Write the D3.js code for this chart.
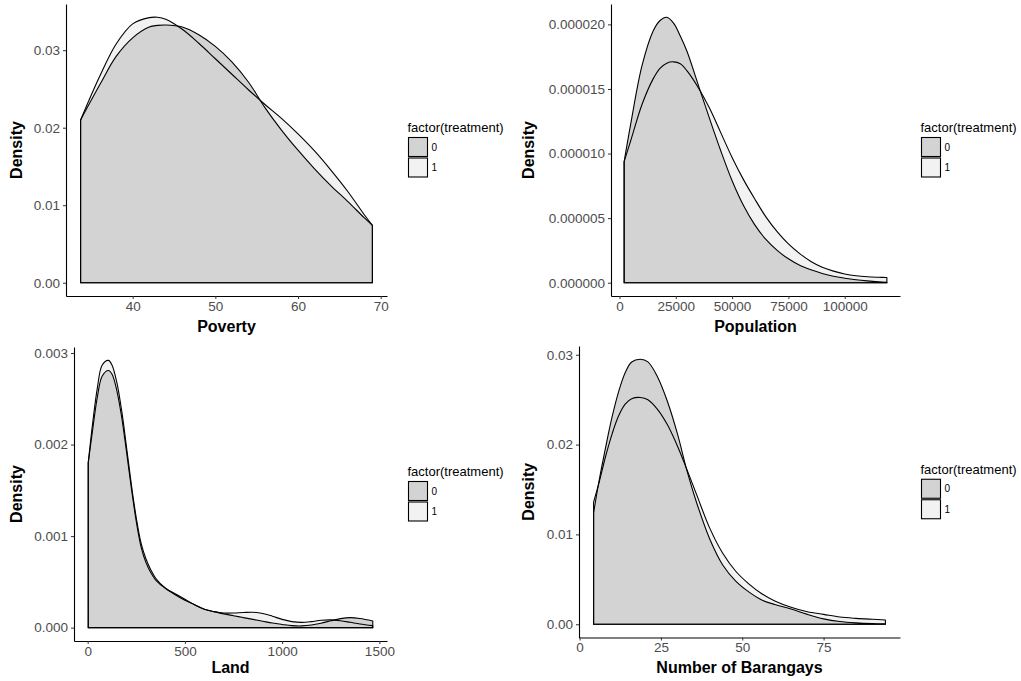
<!DOCTYPE html>
<html>
<head>
<meta charset="utf-8">
<script src="https://cdn.jsdelivr.net/npm/d3@7"></script>
<style>
	body { margin: 0; background: #fff; }
	text { font-family: "Liberation Sans", Arial, sans-serif; }
</style>
</head>
<body>
<div id="wrapper"></div>
<script>
// treatment groups and their fills
const treatments = ["0", "1"];
const fillColors = ["#d3d3d3", "#f2f2f2"];

// Poverty densities
const povertyX = [33.7, 36, 38, 40, 42, 43, 44, 46, 48, 50, 52, 54, 56, 58, 60, 62, 64, 66, 68, 69];
const povertyD0 = [0.0210, 0.0255, 0.0292, 0.0316, 0.0330, 0.0332, 0.03326, 0.0330, 0.0320, 0.0305, 0.0285, 0.0259, 0.0226, 0.0197, 0.0171, 0.0147, 0.0125, 0.0105, 0.0084, 0.0074];
const povertyD1 = [0.0210, 0.0266, 0.0308, 0.0334, 0.0342, 0.03425, 0.0340, 0.0327, 0.0309, 0.0289, 0.0269, 0.0249, 0.0230, 0.0212, 0.0192, 0.0170, 0.0145, 0.0118, 0.0088, 0.0074];

// Population densities
const populationX = [2070, 5000, 10000, 15000, 18000, 21000, 24000, 27000, 30000, 35000, 40000, 45000, 50000, 55000, 60000, 65000, 70000, 75000, 80000, 85000, 90000, 95000, 100000, 105000, 110000, 115000, 118700];
const populationD0 = [9.37e-6, 12.3e-6, 16.8e-6, 19.5e-6, 20.3e-6, 20.55e-6, 20.1e-6, 19.1e-6, 17.9e-6, 15.3e-6, 12.7e-6, 10.2e-6, 7.9e-6, 6.0e-6, 4.5e-6, 3.35e-6, 2.5e-6, 1.85e-6, 1.35e-6, 1.0e-6, 0.72e-6, 0.5e-6, 0.35e-6, 0.23e-6, 0.14e-6, 0.07e-6, 0.03e-6];
const populationD1 = [9.37e-6, 11.0e-6, 13.8e-6, 15.8e-6, 16.6e-6, 17.0e-6, 17.1e-6, 16.95e-6, 16.4e-6, 15.1e-6, 13.5e-6, 11.6e-6, 9.7e-6, 8.0e-6, 6.5e-6, 5.1e-6, 3.95e-6, 3.0e-6, 2.25e-6, 1.65e-6, 1.2e-6, 0.9e-6, 0.68e-6, 0.54e-6, 0.46e-6, 0.42e-6, 0.4e-6];

// Land densities
const landX = [3, 25, 50, 75, 107, 125, 150, 175, 200, 225, 250, 275, 300, 325, 350, 400, 450, 500, 550, 600, 650, 700, 750, 800, 850, 900, 950, 1000, 1050, 1100, 1150, 1200, 1250, 1300, 1350, 1400, 1466];
const landD0 = [0.00180, 0.00215, 0.00252, 0.00275, 0.00281, 0.00277, 0.00259, 0.00230, 0.00192, 0.00152, 0.00116, 0.00088, 0.00071, 0.00060, 0.00052, 0.00043, 0.00037, 0.00031, 0.00025, 0.00020, 0.000175, 0.000150, 0.000130, 0.000110, 0.000090, 0.000070, 0.000050, 0.000035, 0.000022, 0.000019, 0.000028, 0.000048, 0.000075, 0.000098, 0.000109, 0.000100, 0.000073];
const landD1 = [0.00180, 0.00222, 0.00262, 0.00287, 0.00292, 0.00287, 0.00268, 0.00237, 0.00197, 0.00156, 0.00120, 0.00092, 0.00075, 0.00063, 0.00054, 0.00043, 0.00036, 0.00030, 0.00025, 0.00020, 0.000175, 0.000160, 0.000160, 0.000165, 0.000168, 0.000155, 0.000125, 0.000090, 0.000066, 0.000058, 0.000066, 0.000080, 0.000085, 0.000075, 0.000058, 0.000040, 0.000022];

// Number of Barangays densities
const barangayX = [4.3, 6, 8, 10, 12, 14, 16, 18.7, 21, 24, 27, 30, 33, 36, 40, 44, 48, 52, 56, 60, 65, 70, 75, 80, 85, 90, 94];
const barangayD0 = [0.0124, 0.0160, 0.0197, 0.0231, 0.0259, 0.0280, 0.0292, 0.0295, 0.0292, 0.0275, 0.0248, 0.0213, 0.0171, 0.0135, 0.0095, 0.0066, 0.0048, 0.0036, 0.0027, 0.0022, 0.0017, 0.0011, 0.0006, 0.0003, 0.00015, 0.00007, 0.00004];
const barangayD1 = [0.0136, 0.0158, 0.0187, 0.0212, 0.0232, 0.0245, 0.0251, 0.02525, 0.0250, 0.0239, 0.0222, 0.0199, 0.0172, 0.0144, 0.0107, 0.0079, 0.0059, 0.0045, 0.0034, 0.0026, 0.0019, 0.0014, 0.0011, 0.0008, 0.00065, 0.00055, 0.00048];

// tick labels
const povertyXTicks = [40, 50, 60, 70];
const povertyYTicks = [0, 0.01, 0.02, 0.03];
const populationXTicks = [0, 25000, 50000, 75000, 100000];
const populationYTicks = [0, 0.000005, 0.00001, 0.000015, 0.00002];
const landXTicks = [0, 500, 1000, 1500];
const landYTicks = [0, 0.001, 0.002, 0.003];
const barangayXTicks = [0, 25, 50, 75];
const barangayYTicks = [0, 0.01, 0.02, 0.03];

const width = 1021;
const height = 681;

const canvas = d3.select("#wrapper")
	.append("svg")
	.attr("width", width)
	.attr("height", height);

const panels = [
	{ title: "Poverty", x: povertyX, d: [povertyD0, povertyD1], xTicks: povertyXTicks, yTicks: povertyYTicks, yFmt: ".2f",
		left: 66, right: 387, top: 4, bottom: 296, titleY: 331.5, densX: 22 },
	{ title: "Population", x: populationX, d: [populationD0, populationD1], xTicks: populationXTicks, yTicks: populationYTicks, yFmt: ".6f",
		left: 611, right: 900, top: 4, bottom: 296, titleY: 331.5, densX: 533.5 },
	{ title: "Land", x: landX, d: [landD0, landD1], xTicks: landXTicks, yTicks: landYTicks, yFmt: ".3f",
		left: 74, right: 387, top: 347, bottom: 641, titleY: 673, densX: 22 },
	{ title: "Number of Barangays", x: barangayX, d: [barangayD0, barangayD1], xTicks: barangayXTicks, yTicks: barangayYTicks, yFmt: ".2f",
		left: 579, right: 900, top: 346, bottom: 637.5, titleY: 673, densX: 533.5 }
];

// ggplot style 5% expansion
function expand(ext) {
	const pad = (ext[1] - ext[0]) * 0.05;
	return [ext[0] - pad, ext[1] + pad];
}

function drawPanel(p) {
	const g = canvas.append("g");

	const xScale = d3.scaleLinear()
		.domain(expand(d3.extent(p.x)))
		.range([p.left, p.right]);

	const yMax = d3.max(p.d, function(arr){ return d3.max(arr); });
	const yScale = d3.scaleLinear()
		.domain(expand([0, yMax]))
		.range([p.bottom, p.top]);

	const area = d3.area()
		.x(function(d){ return xScale(d[0]); })
		.y0(yScale(0))
		.y1(function(d){ return yScale(d[1]); })
		.curve(d3.curveCatmullRom.alpha(0.5));

	const series = p.d.map(function(arr){
		return arr.map(function(v, i){ return [p.x[i], v]; });
	});

	// fills: treatment 1 underneath, treatment 0 on top, outlines last
	[1, 0].forEach(function(k){
		g.append("path")
			.attr("d", area(series[k]))
			.attr("fill", fillColors[k])
			.attr("stroke", "none");
	});
	[1, 0].forEach(function(k){
		g.append("path")
			.attr("d", area(series[k]))
			.attr("fill", "none")
			.attr("stroke", "#000")
			.attr("stroke-width", 1.1)
			.attr("stroke-linejoin", "round");
	});

	const xAxis = g.append("g")
		.attr("transform", "translate(0," + p.bottom + ")")
		.call(d3.axisBottom(xScale).tickValues(p.xTicks).tickSize(3).tickSizeOuter(0).tickPadding(2).tickFormat(d3.format("d")));

	const yAxis = g.append("g")
		.attr("transform", "translate(" + p.left + ",0)")
		.call(d3.axisLeft(yScale).tickValues(p.yTicks).tickSize(3).tickSizeOuter(0).tickPadding(3).tickFormat(d3.format(p.yFmt)));

	[xAxis, yAxis].forEach(function(ax){
		ax.select(".domain").attr("stroke", "#000").attr("stroke-width", 1.1);
		ax.selectAll(".tick line").attr("stroke", "#333").attr("stroke-width", 1);
		ax.selectAll(".tick text")
			.attr("fill", "#4d4d4d")
			.style("font-size", "13.5px")
			.style("font-family", "'Liberation Sans', Arial, sans-serif");
	});

	// axis titles
	g.append("text")
		.attr("x", (p.left + p.right) / 2)
		.attr("y", p.titleY)
		.attr("text-anchor", "middle")
		.style("font-size", "16px")
		.style("font-weight", "bold")
		.text(p.title);

	g.append("text")
		.attr("transform", "translate(" + p.densX + "," + (p.top + p.bottom) / 2 + ") rotate(-90)")
		.attr("text-anchor", "middle")
		.style("font-size", "16px")
		.style("font-weight", "bold")
		.text("Density");

	// legend
	const lx = p.right + 20.5;
	const cy = (p.top + p.bottom) / 2;
	const legend = g.append("g");
	legend.append("text")
		.attr("x", lx)
		.attr("y", cy - 18)
		.style("font-size", "13px")
		.text("factor(treatment)");

	treatments.forEach(function(t, i){
		const by = cy - 12.5 + i * 20.5;
		legend.append("rect")
			.attr("x", lx + 1)
			.attr("y", by)
			.attr("width", 19)
			.attr("height", 19)
			.attr("fill", fillColors[i])
			.attr("stroke", "#000")
			.attr("stroke-width", 1.1);
		legend.append("text")
			.attr("x", lx + 24)
			.attr("y", by + 13)
			.style("font-size", "10px")
			.text(t);
	});
}

panels.forEach(drawPanel);
</script>
</body>
</html>
